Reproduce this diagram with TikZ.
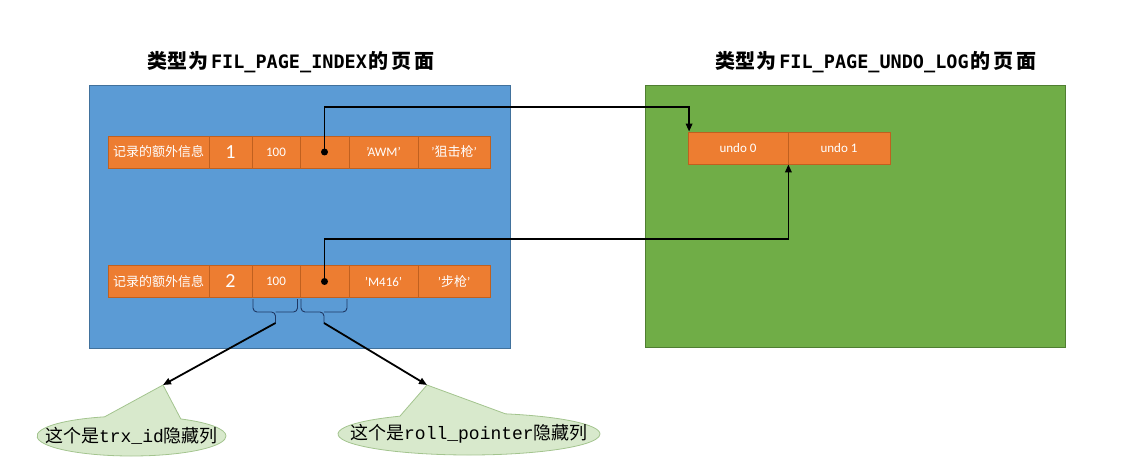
\documentclass[tikz,border=0pt]{standalone}
\usepackage{fontspec}
\setmainfont{Carlito}
\newfontfamily\cjk{Noto Sans CJK SC}
\newfontfamily\lmono{Liberation Mono}
\newfontfamily\tmono{DejaVu Sans Mono}
\usetikzlibrary{shapes.callouts,arrows.meta,calc}
\definecolor{bluefill}{HTML}{5B9BD5}
\definecolor{blueline}{HTML}{41719C}
\definecolor{greenfill}{HTML}{70AD47}
\definecolor{greenline}{HTML}{507E32}
\definecolor{cellfill}{HTML}{ED7D31}
\definecolor{cellline}{HTML}{C0601F}
\definecolor{bracecol}{HTML}{1F3864}
\definecolor{calloutfill}{HTML}{D8E9CC}
\definecolor{calloutline}{HTML}{A3C48E}
\newcommand\ck{\kern3pt}
\newcommand\titlelatin[1]{{\tmono\bfseries\fontsize{18.5}{22}\selectfont #1}}
\begin{document}
\begin{tikzpicture}[x=1pt,y=-1pt,
  pagebox/.style={draw=#1, line width=1pt, inner sep=0pt},
  cell/.style={draw=cellline, fill=cellfill, line width=0.8pt, minimum height=32pt,
    inner sep=0pt, text=white, font=\fontsize{13}{15}\selectfont},
  bignum/.style={font=\fontsize{20}{22}\selectfont},
  ptr/.style={line width=1.8pt, -{Triangle[length=8pt,width=6.5pt]}},
  brc/.style={draw=bracecol, line width=0.9pt, rounded corners=4pt},
  titletext/.style={font=\fontsize{20}{24}\selectfont, inner sep=0pt},
  bubble/.style={ellipse callout, draw=calloutline, fill=calloutfill, line width=0.8pt,
    callout pointer arc=48, inner sep=0pt},
  bubbletext/.style={font=\fontsize{18}{20}\selectfont, inner sep=0pt}]
\useasboundingbox (0,0) rectangle (1132,473);

% pages
\node[pagebox=blueline, fill=bluefill, minimum width=421pt, minimum height=262pt] (idx) at (299.5,217) {};
\node[pagebox=greenline, fill=greenfill, minimum width=420pt, minimum height=261pt] (undo) at (855,216.5) {};

% titles
\node[titletext] (t1) at (291,62) {{\cjk\bfseries 类\kern0.5pt 型\kern0.5pt 为}\kern3pt\titlelatin{FIL\_PAGE\_INDEX}\kern2pt{\cjk\bfseries 的\ck 页\ck 面}};
\node[titletext] (t2) at (876,62) {{\cjk\bfseries 类\kern0.5pt 型\kern0.5pt 为}\kern3pt\titlelatin{FIL\_PAGE\_UNDO\_LOG}\kern2pt{\cjk\bfseries 的\ck 页\ck 面}};

% record 1
\node[cell, minimum width=101pt] (a1) at (158.5,152) {\cjk 记录的额外信息};
\node[cell, bignum, minimum width=43pt] (b1) at (230.5,152) {1};
\node[cell, minimum width=48pt] (c1) at (276,152) {100};
\node[cell, minimum width=49pt] (d1) at (324.5,152) {};
\node[cell, minimum width=69pt] (e1) at (383.5,152) {'AWM'};
\node[cell, minimum width=72pt] (f1) at (454,152) {'{\cjk 狙击枪}'};

% record 2
\node[cell, minimum width=101pt] (a2) at (158.5,281.5) {\cjk 记录的额外信息};
\node[cell, bignum, minimum width=43pt] (b2) at (230.5,281.5) {2};
\node[cell, minimum width=48pt] (c2) at (276,281.5) {100};
\node[cell, minimum width=49pt] (d2) at (324.5,281.5) {};
\node[cell, minimum width=69pt] (e2) at (383.5,281.5) {'M416'};
\node[cell, minimum width=72pt] (f2) at (454,281.5) {'{\cjk 步枪}'};

% undo records
\node[cell, minimum width=100pt] (u0) at (738,148) {undo 0};
\node[cell, minimum width=102pt] (u1) at (839,148) {undo 1};

% pointers
\fill (d1.center) circle (3.5pt);
\fill (d2.center) circle (3.5pt);
\coordinate (h1) at (0,107);
\coordinate (h2) at (0,239);
\coordinate (in0) at ($(u0.north west)+(1.5,0)$);
\draw[ptr] (d1.center) -- (d1.center |- h1) -- (in0 |- h1) -- (in0);
\draw[ptr] (d2.center) -- (d2.center |- h2) -- (u0.south east |- h2) -- (u0.south east);

% braces
\coordinate (bt1) at (275.5,323);
\coordinate (bt2) at (324,323);
\draw[brc] (253,299) -- (253,312) -- (275.5,312) -- (bt1);
\draw[brc] (297.5,299) -- (297.5,312) -- (275.5,312);
\draw[brc] (301,299) -- (301,312) -- (324,312) -- (bt2);
\draw[brc] (347,299) -- (347,312) -- (324,312);

% callouts
\coordinate (cp1) at (163,385);
\coordinate (cp2) at (427,385);
\node[bubble, minimum width=189pt, minimum height=40pt, callout absolute pointer={(cp1)}] (co1) at (131.5,436) {};
\node[bubbletext] (ct1) at (co1.center) {{\cjk 这个是}{\lmono trx\_id}{\cjk 隐藏列}};
\node[bubble, minimum width=262pt, minimum height=42pt, callout absolute pointer={(cp2)}] (co2) at (469,434) {};
\node[bubbletext] (ct2) at (co2.center) {{\cjk 这个是}{\lmono roll\_pointer}{\cjk 隐藏列}};

\draw[ptr] (bt1) -- (cp1);
\draw[ptr] (bt2) -- (cp2);
\end{tikzpicture}
\end{document}
